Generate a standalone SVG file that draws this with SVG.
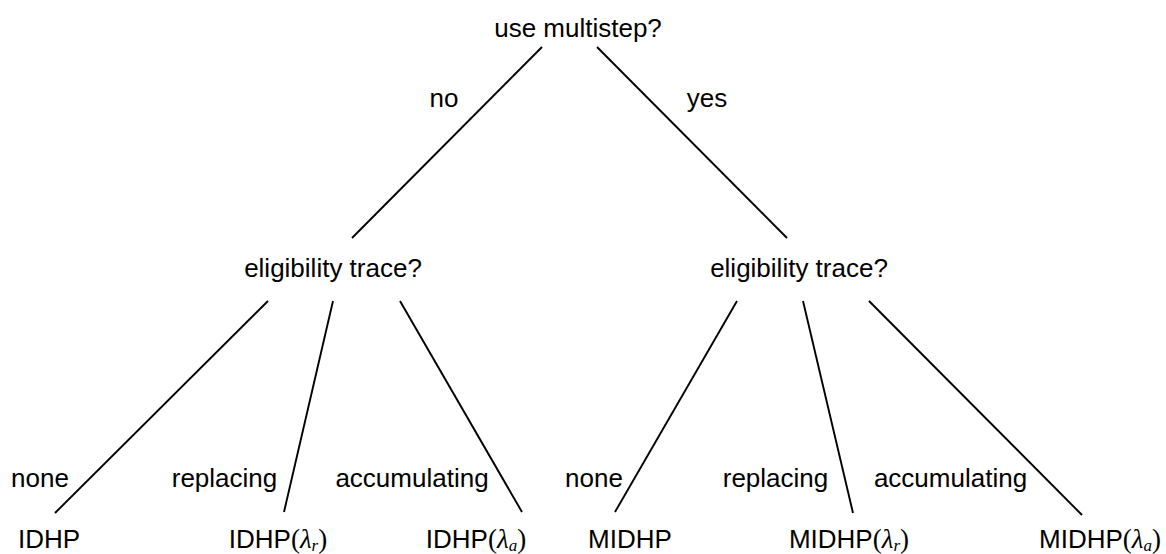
<svg xmlns="http://www.w3.org/2000/svg" width="1166" height="554" viewBox="0 0 1166 554">
<style>
text{font-family:"Liberation Sans",Arial,sans-serif;font-size:26px;fill:#000;text-anchor:middle}
.m{font-family:"Liberation Serif","Times New Roman",serif;font-size:27px}
.i{font-style:italic}
.s{font-size:17px}
line{stroke:#000;stroke-width:1.9;stroke-linecap:butt}
</style>
<rect width="1166" height="554" fill="#fff"/>
<g id="connectors">
<line x1="542" y1="47" x2="352" y2="238"/>
<line x1="597" y1="47" x2="787" y2="238"/>
<line x1="268" y1="301" x2="55" y2="513"/>
<line x1="333" y1="301" x2="284" y2="512"/>
<line x1="400" y1="301" x2="522" y2="512"/>
<line x1="737" y1="301" x2="615" y2="512"/>
<line x1="803" y1="301" x2="853" y2="513"/>
<line x1="869" y1="301" x2="1082" y2="515"/>
</g>
<g id="edge-labels">
<text x="444" y="107">no</text>
<text x="707" y="107">yes</text>
<text x="40" y="487">none</text>
<text x="224.5" y="487">replacing</text>
<text x="412" y="487">accumulating</text>
<text x="594" y="487">none</text>
<text x="775.5" y="487">replacing</text>
<text x="950.5" y="487">accumulating</text>
</g>
<g id="root"><text x="578" y="37">use multistep?</text></g>
<g id="elig-left"><text x="333" y="277">eligibility trace?</text></g>
<g id="elig-right"><text x="799" y="277">eligibility trace?</text></g>
<g id="leaf-idhp"><text x="49" y="548">IDHP</text></g>
<g id="leaf-idhp-r"><text x="278" y="548">IDHP<tspan class="m">(</tspan><tspan class="m i">λ</tspan><tspan class="m i s" dy="3">r</tspan><tspan class="m" dy="-3">)</tspan></text></g>
<g id="leaf-idhp-a"><text x="476" y="548">IDHP<tspan class="m">(</tspan><tspan class="m i">λ</tspan><tspan class="m i s" dy="3">a</tspan><tspan class="m" dy="-3">)</tspan></text></g>
<g id="leaf-midhp"><text x="630" y="548">MIDHP</text></g>
<g id="leaf-midhp-r"><text x="849" y="548">MIDHP<tspan class="m">(</tspan><tspan class="m i">λ</tspan><tspan class="m i s" dy="3">r</tspan><tspan class="m" dy="-3">)</tspan></text></g>
<g id="leaf-midhp-a"><text x="1100" y="548">MIDHP<tspan class="m">(</tspan><tspan class="m i">λ</tspan><tspan class="m i s" dy="3">a</tspan><tspan class="m" dy="-3">)</tspan></text></g>
</svg>
